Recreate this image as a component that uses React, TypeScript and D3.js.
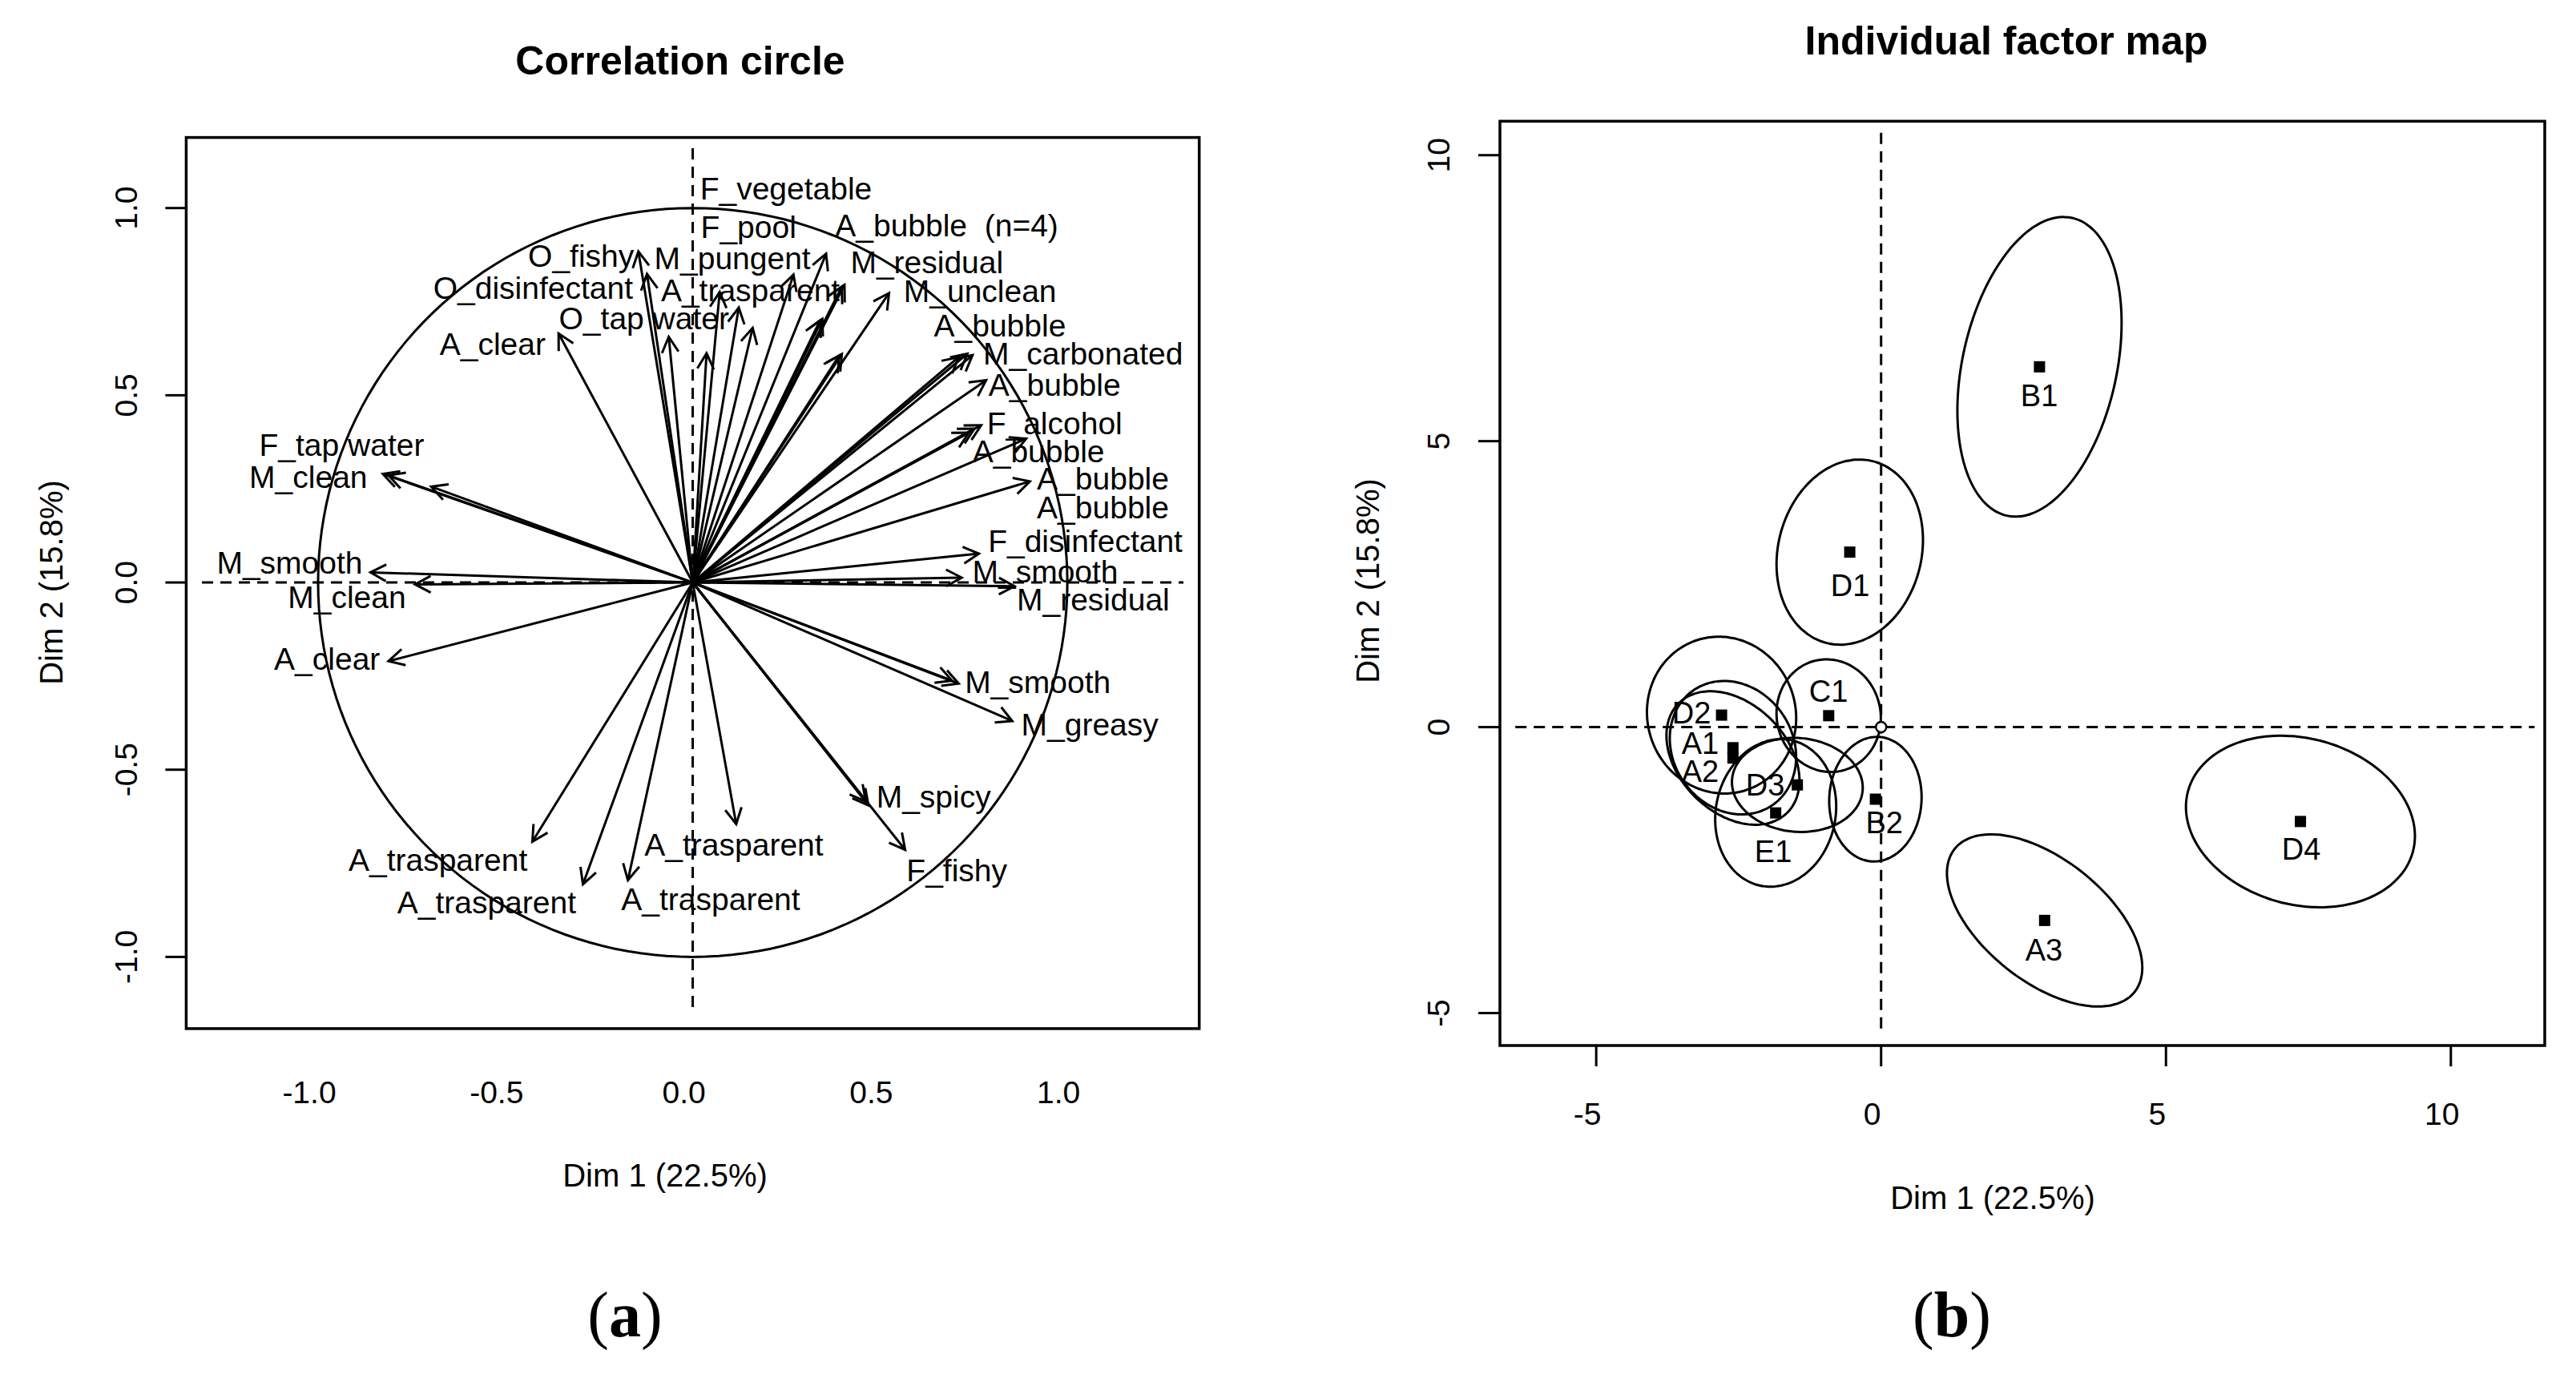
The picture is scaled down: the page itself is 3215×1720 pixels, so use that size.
import React from 'react';
import * as d3 from 'd3';

// ---------- (a) Correlation circle: variable coordinates ----------
const varX = [-0.358, -0.145, -0.122, -0.064, 0.037, 0.072, 0.123, 0.160, 0.269, 0.356, 0.398, 0.405, 0.340, 0.346, 0.391, 0.398, 0.524, 0.710, 0.733, 0.747, 0.783, 0.770, 0.752, 0.737, 0.890, 0.900, 0.764, 0.718, 0.859, 0.710, 0.692, 0.853, 0.469, 0.462, 0.567, 0.116, -0.173, -0.293, -0.428, -0.812, -0.741, -0.860, -0.827, -0.812, -0.698];
const varY = [0.665, 0.884, 0.824, 0.656, 0.612, 0.776, 0.734, 0.680, 0.822, 0.878, 0.790, 0.795, 0.700, 0.704, 0.606, 0.610, 0.773, 0.602, 0.611, 0.607, 0.540, 0.420, 0.411, 0.400, 0.384, 0.270, 0.077, 0.013, -0.010, -0.270, -0.262, -0.370, -0.595, -0.585, -0.714, -0.645, -0.795, -0.806, -0.692, -0.210, -0.005, 0.027, 0.290, 0.286, 0.256];

const varLabels = ['F_vegetable', 'F_pool', 'A_bubble  (n=4)', 'O_fishy', 'M_pungent', 'M_residual', 'O_disinfectant', 'A_trasparent', 'M_unclean', 'O_tap water', 'A_bubble', 'A_clear', 'M_carbonated', 'A_bubble', 'F_alcohol', 'A_bubble', 'F_tap water', 'M_clean', 'A_bubble', 'A_bubble', 'F_disinfectant', 'M_smooth', 'M_smooth', 'M_clean', 'M_residual', 'A_clear', 'M_smooth', 'M_greasy', 'M_spicy', 'A_trasparent', 'A_trasparent', 'F_fishy', 'A_trasparent', 'A_trasparent'];
const varLabelX = [0.249, 0.149, 0.678, -0.298, 0.106, 0.625, -0.426, 0.154, 0.767, -0.130, 0.820, -0.534, 1.042, 0.966, 0.966, 0.923, -0.937, -1.026, 1.095, 1.095, 1.048, -1.076, 0.941, -0.923, 1.069, -0.976, 0.921, 1.060, 0.643, 0.110, -0.680, 0.705, -0.550, 0.048];
const varLabelY = [1.052, 0.948, 0.954, 0.873, 0.865, 0.854, 0.786, 0.781, 0.777, 0.706, 0.685, 0.637, 0.612, 0.528, 0.424, 0.350, 0.366, 0.282, 0.277, 0.201, 0.110, 0.052, 0.029, -0.040, -0.045, -0.205, -0.266, -0.379, -0.572, -0.701, -0.741, -0.770, -0.854, -0.846];

const corTicks = [-1.0, -0.5, 0.0, 0.5, 1.0];

// ---------- (b) Individual factor map ----------
const indNames = ['B1', 'D1', 'C1', 'D2', 'A1', 'A2', 'D3', 'E1', 'B2', 'A3', 'D4'];
const indX = [2.78, -0.55, -0.92, -2.80, -2.60, -2.60, -1.47, -1.85, -0.10, 2.87, 7.36];
const indY = [6.30, 3.06, 0.20, 0.21, -0.36, -0.54, -1.01, -1.50, -1.26, -3.38, -1.65];
const indLabelX = [2.775, -0.544, -0.924, -3.329, -3.174, -3.174, -2.035, -1.894, 0.056, 2.859, 7.373];
const indLabelY = [5.79, 2.474, 0.625, 0.247, -0.286, -0.776, -1.014, -2.177, -1.668, -3.903, -2.135];
// confidence ellipses: semi-axis a (rotated phi degrees clockwise from vertical), semi-axis b
const ellA = [2.665, 1.64, 0.99, 1.38, 1.22, 1.35, 1.15, 1.30, 1.09, 2.014, 2.043];
const ellB = [1.354, 1.257, 0.91, 1.30, 1.05, 0.95, 0.82, 1.05, 0.81, 1.071, 1.454];
const ellPhi = [12.4, 14.7, -15, -20, -35, -45, 95, 12, 3, -51.7, 104.9];

const indXTicks = [-5, 0, 5, 10];
const indYTicks = [-5, 0, 5, 10];

const FONT = "'Liberation Sans', Arial, Helvetica, sans-serif";

export default function App() {
  const W = 3215, H = 1720;

  // left panel scales
  const xL = d3.scaleLinear().domain([-1.352, 1.352]).range([232.4, 1496.7]);
  const yL = d3.scaleLinear().domain([-1.1915, 1.1885]).range([1283.9, 171.6]);
  // right panel scales
  const xR = d3.scaleLinear().domain([-6.690, 11.648]).range([1872, 3176]);
  const yR = d3.scaleLinear().domain([-5.567, 10.594]).range([1305, 151.3]);

  const circlePts = d3.range(0, 361, 2).map((deg) => {
    const t = (deg * Math.PI) / 180;
    return [xL(Math.cos(t)), yL(Math.sin(t))] as [number, number];
  });
  const circlePath = d3.line().curve(d3.curveLinearClosed)(circlePts) || '';

  const arrowHead = (x0: number, y0: number, x1: number, y1: number) => {
    const ang = Math.atan2(y1 - y0, x1 - x0);
    const len = 22;
    const spread = (28 * Math.PI) / 180;
    const ax = x1 - len * Math.cos(ang - spread);
    const ay = y1 - len * Math.sin(ang - spread);
    const bx = x1 - len * Math.cos(ang + spread);
    const by = y1 - len * Math.sin(ang + spread);
    return `M${ax},${ay}L${x1},${y1}L${bx},${by}`;
  };

  const ellipsePath = (i: number) => {
    const phi = (ellPhi[i] * Math.PI) / 180;
    const a = ellA[i], b = ellB[i];
    const pts = d3.range(0, 360, 3).map((deg) => {
      const t = (deg * Math.PI) / 180;
      const dx = a * Math.cos(t) * Math.sin(phi) + b * Math.sin(t) * Math.cos(phi);
      const dy = a * Math.cos(t) * Math.cos(phi) - b * Math.sin(t) * Math.sin(phi);
      return [xR(indX[i] + dx), yR(indY[i] + dy)] as [number, number];
    });
    return d3.line().curve(d3.curveCardinalClosed)(pts) || '';
  };

  const x0 = xL(0), y0 = yL(0);
  const labelShift = -11;

  return (
    <svg width={W} height={H} style={{ position: 'absolute', left: 0, top: 0, background: '#fff' }} fontFamily={FONT}>
      <rect x={0} y={0} width={W} height={H} fill="#fff" />

      {/* ================= (a) ================= */}
      <text x={849} y={76} textAnchor="middle" dominantBaseline="central" fontWeight="bold" fontSize={50}>Correlation circle</text>
      <rect x={xL.range()[0]} y={yL.range()[1]} width={xL.range()[1] - xL.range()[0]} height={yL.range()[0] - yL.range()[1]} fill="none" stroke="#000" strokeWidth={3.5} />
      {/* y axis ticks */}
      {corTicks.map((t) => (
        <g key={'cyt' + t}>
          <line x1={xL.range()[0]} x2={xL.range()[0] - 26} y1={yL(t)} y2={yL(t)} stroke="#000" strokeWidth={3} />
          <text x={158} y={yL(t)} textAnchor="middle" dominantBaseline="central" fontSize={39} transform={`rotate(-90 158 ${yL(t)})`}>{t.toFixed(1)}</text>
        </g>
      ))}
      {/* x axis labels */}
      {corTicks.map((t) => (
        <text key={'cxt' + t} x={xL(t) + labelShift} y={1363} textAnchor="middle" dominantBaseline="central" fontSize={39}>{t.toFixed(1)}</text>
      ))}
      <text x={830} y={1467} textAnchor="middle" dominantBaseline="central" fontSize={40}>Dim 1 (22.5%)</text>
      <text x={64} y={727} textAnchor="middle" dominantBaseline="central" fontSize={40} transform={`rotate(-90 64 727)`}>Dim 2 (15.8%)</text>

      {/* dashed axes */}
      <line x1={xL(-1.31)} x2={xL(1.31)} y1={y0} y2={y0} stroke="#000" strokeWidth={3} strokeDasharray="14,9" />
      <line x1={x0} x2={x0} y1={yL(1.16)} y2={yL(-1.15)} stroke="#000" strokeWidth={3} strokeDasharray="14,9" />
      <path d={circlePath} fill="none" stroke="#000" strokeWidth={3} />

      {/* arrows */}
      {varX.map((vx, i) => {
        const x1 = xL(vx), y1 = yL(varY[i]);
        return (
          <g key={'ar' + i} stroke="#000" strokeWidth={3} fill="none">
            <line x1={x0} y1={y0} x2={x1} y2={y1} />
            <path d={arrowHead(x0, y0, x1, y1)} />
          </g>
        );
      })}
      {varLabels.map((lab, i) => (
        <text key={'vl' + i} x={xL(varLabelX[i])} y={yL(varLabelY[i])} textAnchor="middle" dominantBaseline="central" fontSize={39} style={{ whiteSpace: 'pre' }}>{lab}</text>
      ))}

      {/* ================= (b) ================= */}
      <text x={2504} y={51} textAnchor="middle" dominantBaseline="central" fontWeight="bold" fontSize={50}>Individual factor map</text>
      <rect x={xR.range()[0]} y={yR.range()[1]} width={xR.range()[1] - xR.range()[0]} height={yR.range()[0] - yR.range()[1]} fill="none" stroke="#000" strokeWidth={3.5} />
      {indYTicks.map((t) => (
        <g key={'iyt' + t}>
          <line x1={xR.range()[0]} x2={xR.range()[0] - 27} y1={yR(t)} y2={yR(t)} stroke="#000" strokeWidth={3} />
          <text x={1796} y={yR(t)} textAnchor="middle" dominantBaseline="central" fontSize={39} transform={`rotate(-90 1796 ${yR(t)})`}>{String(t)}</text>
        </g>
      ))}
      {indXTicks.map((t) => (
        <g key={'ixt' + t}>
          <line x1={xR(t)} x2={xR(t)} y1={yR.range()[0]} y2={yR.range()[0] + 26} stroke="#000" strokeWidth={3} />
          <text x={xR(t) + labelShift} y={1390} textAnchor="middle" dominantBaseline="central" fontSize={39}>{String(t)}</text>
        </g>
      ))}
      <text x={2487} y={1495} textAnchor="middle" dominantBaseline="central" fontSize={40}>Dim 1 (22.5%)</text>
      <text x={1707} y={725} textAnchor="middle" dominantBaseline="central" fontSize={40} transform={`rotate(-90 1707 725)`}>Dim 2 (15.8%)</text>

      <line x1={xR(-6.42)} x2={xR(11.47)} y1={yR(0)} y2={yR(0)} stroke="#000" strokeWidth={3} strokeDasharray="14,9" />
      <line x1={xR(0)} x2={xR(0)} y1={yR(10.39)} y2={yR(-5.33)} stroke="#000" strokeWidth={3} strokeDasharray="14,9" />

      {indNames.map((n, i) => (
        <path key={'el' + n} d={ellipsePath(i)} fill="none" stroke="#000" strokeWidth={3} />
      ))}
      <circle cx={xR(0)} cy={yR(0)} r={6.5} fill="#fff" stroke="#000" strokeWidth={2.5} />
      {indNames.map((n, i) => (
        <rect key={'pt' + n} x={xR(indX[i]) - 7} y={yR(indY[i]) - 7} width={14} height={14} fill="#000" />
      ))}
      {indNames.map((n, i) => (
        <text key={'il' + n} x={xR(indLabelX[i])} y={yR(indLabelY[i])} textAnchor="middle" dominantBaseline="central" fontSize={38}>{n}</text>
      ))}

      {/* panel letters */}
      <text x={780} y={1668} textAnchor="middle" fontFamily="'Liberation Serif', 'Times New Roman', serif" fontSize={80}>(<tspan fontWeight="bold">a</tspan>)</text>
      <text x={2436} y={1668} textAnchor="middle" fontFamily="'Liberation Serif', 'Times New Roman', serif" fontSize={80}>(<tspan fontWeight="bold">b</tspan>)</text>
    </svg>
  );
}
